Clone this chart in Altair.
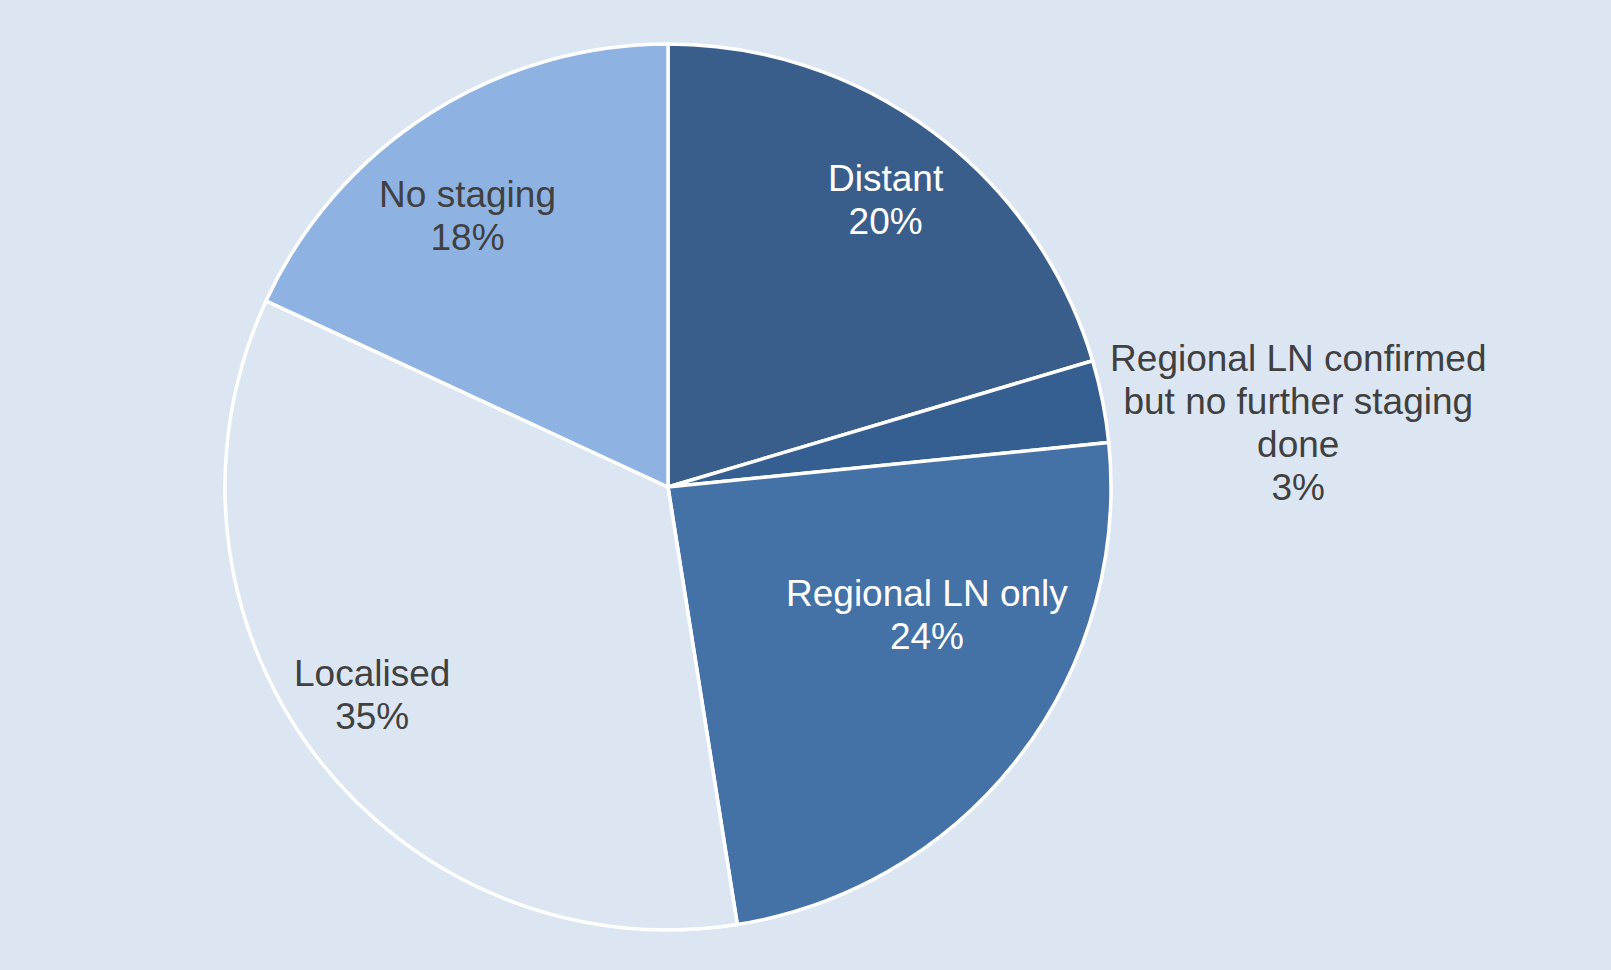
import altair as alt
import pandas as pd
import math

categories = ["Distant", "Regional LN confirmed but no further staging done",
              "Regional LN only", "Localised", "No staging"]
values = [20.4, 3.0, 24.1, 34.4, 18.1]
labels = ["Distant\n20%", "Regional LN confirmed\nbut no further staging\ndone\n3%",
          "Regional LN only\n24%", "Localised\n35%", "No staging\n18%"]
colors = ["#3A5E8C", "#365F91", "#4472A7", "#DCE6F2", "#8EB3E2"]

df = pd.DataFrame({"cat": categories, "val": values, "label": labels,
                   "idx": list(range(len(categories)))})

CX, CY, R = 668, 487, 443
FONT = "Liberation Sans"

arcs = alt.Chart(df).mark_arc(outerRadius=R, stroke="white", strokeWidth=3.5).encode(
    theta=alt.Theta("val:Q", stack=True),
    order=alt.Order("idx:Q"),
    x=alt.value(CX),
    y=alt.value(CY),
    color=alt.Color("cat:N", scale=alt.Scale(domain=categories, range=colors), legend=None),
)

lbase = alt.Chart(df).transform_window(
    cum="sum(val)", sort=[alt.SortField("idx")]
).transform_joinaggregate(
    total="sum(val)"
).transform_calculate(
    frac="(datum.cum - datum.val / 2) / datum.total"
)

def lab(cat, radius, dx, dy, color):
    return lbase.transform_filter(alt.datum.cat == cat).mark_text(
        radius=radius, dx=dx, dy=dy, font=FONT, fontSize=37, lineHeight=43,
        align="center", baseline="middle", color=color, lineBreak="\n"
    ).encode(
        theta=alt.Theta("frac:Q", stack=None,
                        scale=alt.Scale(domain=[0, 1], range=[0, 2 * math.pi])),
        x=alt.value(CX),
        y=alt.value(CY),
        text="label:N",
    )

layers = [
    arcs,
    lab(categories[0], 359, 3, -19, "white"),
    lab(categories[1], 620, 22, -7, "#404040"),
    lab(categories[2], 289, 30, -68, "white"),
    lab(categories[3], 362, -7, -30, "#404040"),
    lab(categories[4], 337, -19, -7, "#404040"),
]

chart = alt.layer(*layers).resolve_scale(theta="independent").properties(
    width=1611, height=970, background="#DCE6F2", padding=0,
    autosize=alt.AutoSizeParams(type="none")
).configure_view(strokeWidth=0)

chart.save("out.html", embed_options={"renderer": "svg", "actions": False})
